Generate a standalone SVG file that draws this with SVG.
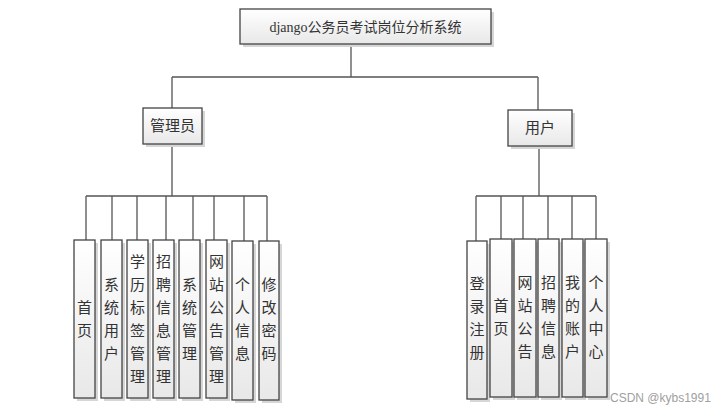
<svg xmlns="http://www.w3.org/2000/svg" width="724" height="412" viewBox="0 0 724 412">
<defs>
<linearGradient id="g" x1="0" y1="0" x2="0" y2="1">
<stop offset="0" stop-color="#ffffff"/>
<stop offset="1" stop-color="#e8e8e8"/>
</linearGradient>
<style>
.box{fill:url(#g);stroke:#444;stroke-width:1.3}
.sh{fill:#d6d6d6}
.t{font-family:"Liberation Serif","Noto Sans CJK SC",serif;font-size:14px;fill:#333;text-anchor:middle}
.v{font-family:"Noto Sans CJK SC",sans-serif;font-size:15px;fill:#333;text-anchor:middle}
.ln{stroke:#555;stroke-width:1.3;fill:none}
</style>
</defs>
<rect width="724" height="412" fill="#fff"/>
<g id="connectors">
<path class="ln" d="M351 44V77M172 77H538M172 77V108M538 77V110"/>
<path class="ln" d="M172 144V196M86 196H267M86 196V240M112 196V240M137 196V240M166 196V240M193 196V240M214 196V240M244 196V241M267 196V241"/>
<path class="ln" d="M539 146V196M476 196H596M476 196V241M501 196V239M523 196V239M548 196V239M572 196V239M596 196V239"/>
</g>
<g id="root">
<rect class="sh" x="243" y="12" width="251" height="35"/>
<rect class="box" x="240" y="9" width="251" height="35"/>
<text class="t" x="365.5" y="32">django公务员考试岗位分析系统</text>
</g>
<g id="admin">
<rect class="sh" x="146" y="111" width="59" height="36"/>
<rect class="box" x="143" y="108" width="59" height="36"/>
<text class="v" x="172.5" y="131">管理员</text>
</g>
<g id="user">
<rect class="sh" x="511" y="113" width="64" height="36"/>
<rect class="box" x="508" y="110" width="64" height="36"/>
<text class="v" x="540" y="133">用户</text>
</g>
<g id="a1"><rect class="sh" x="77" y="243" width="21" height="158"/><rect class="box" x="74" y="240" width="21" height="158"/><text class="v" x="84.5"><tspan x="84.5" y="313">首</tspan><tspan x="84.5" y="336">页</tspan></text></g>
<g id="a2"><rect class="sh" x="104" y="243" width="21" height="158"/><rect class="box" x="101" y="240" width="21" height="158"/><text class="v"><tspan x="111.5" y="290">系</tspan><tspan x="111.5" y="313">统</tspan><tspan x="111.5" y="336">用</tspan><tspan x="111.5" y="359">户</tspan></text></g>
<g id="a3"><rect class="sh" x="130" y="243" width="21" height="158"/><rect class="box" x="127" y="240" width="21" height="158"/><text class="v"><tspan x="137.5" y="267">学</tspan><tspan x="137.5" y="290">历</tspan><tspan x="137.5" y="313">标</tspan><tspan x="137.5" y="336">签</tspan><tspan x="137.5" y="359">管</tspan><tspan x="137.5" y="382">理</tspan></text></g>
<g id="a4"><rect class="sh" x="156" y="243" width="21" height="158"/><rect class="box" x="153" y="240" width="21" height="158"/><text class="v"><tspan x="163.5" y="267">招</tspan><tspan x="163.5" y="290">聘</tspan><tspan x="163.5" y="313">信</tspan><tspan x="163.5" y="336">息</tspan><tspan x="163.5" y="359">管</tspan><tspan x="163.5" y="382">理</tspan></text></g>
<g id="a5"><rect class="sh" x="182" y="243" width="21" height="158"/><rect class="box" x="179" y="240" width="21" height="158"/><text class="v"><tspan x="189.5" y="290">系</tspan><tspan x="189.5" y="313">统</tspan><tspan x="189.5" y="336">管</tspan><tspan x="189.5" y="359">理</tspan></text></g>
<g id="a6"><rect class="sh" x="209" y="243" width="21" height="158"/><rect class="box" x="206" y="240" width="21" height="158"/><text class="v"><tspan x="216.5" y="267">网</tspan><tspan x="216.5" y="290">站</tspan><tspan x="216.5" y="313">公</tspan><tspan x="216.5" y="336">告</tspan><tspan x="216.5" y="359">管</tspan><tspan x="216.5" y="382">理</tspan></text></g>
<g id="a7"><rect class="sh" x="235" y="244" width="21" height="159"/><rect class="box" x="232" y="241" width="21" height="159"/><text class="v"><tspan x="242.5" y="290">个</tspan><tspan x="242.5" y="313">人</tspan><tspan x="242.5" y="336">信</tspan><tspan x="242.5" y="359">息</tspan></text></g>
<g id="a8"><rect class="sh" x="262" y="244" width="20" height="159"/><rect class="box" x="259" y="241" width="20" height="159"/><text class="v"><tspan x="269" y="290">修</tspan><tspan x="269" y="313">改</tspan><tspan x="269" y="336">密</tspan><tspan x="269" y="359">码</tspan></text></g>
<g id="u1"><rect class="sh" x="470" y="244" width="20" height="158"/><rect class="box" x="467" y="241" width="20" height="158"/><text class="v"><tspan x="477" y="289">登</tspan><tspan x="477" y="312">录</tspan><tspan x="477" y="335">注</tspan><tspan x="477" y="358">册</tspan></text></g>
<g id="u2"><rect class="sh" x="493" y="242" width="22" height="158"/><rect class="box" x="490" y="239" width="22" height="158"/><text class="v"><tspan x="501" y="311">首</tspan><tspan x="501" y="334">页</tspan></text></g>
<g id="u3"><rect class="sh" x="517" y="242" width="22" height="158"/><rect class="box" x="514" y="239" width="22" height="158"/><text class="v"><tspan x="525" y="288">网</tspan><tspan x="525" y="311">站</tspan><tspan x="525" y="334">公</tspan><tspan x="525" y="357">告</tspan></text></g>
<g id="u4"><rect class="sh" x="541" y="242" width="21" height="158"/><rect class="box" x="538" y="239" width="21" height="158"/><text class="v"><tspan x="548.5" y="288">招</tspan><tspan x="548.5" y="311">聘</tspan><tspan x="548.5" y="334">信</tspan><tspan x="548.5" y="357">息</tspan></text></g>
<g id="u5"><rect class="sh" x="565" y="242" width="21" height="158"/><rect class="box" x="562" y="239" width="21" height="158"/><text class="v"><tspan x="572.5" y="288">我</tspan><tspan x="572.5" y="311">的</tspan><tspan x="572.5" y="334">账</tspan><tspan x="572.5" y="357">户</tspan></text></g>
<g id="u6"><rect class="sh" x="588" y="242" width="22" height="158"/><rect class="box" x="585" y="239" width="22" height="158"/><text class="v"><tspan x="596" y="288">个</tspan><tspan x="596" y="311">人</tspan><tspan x="596" y="334">中</tspan><tspan x="596" y="357">心</tspan></text></g>
<text x="610" y="402" font-family="'Liberation Sans',sans-serif" font-size="12" fill="#a0a0a0">CSDN @kybs1991</text>
</svg>
